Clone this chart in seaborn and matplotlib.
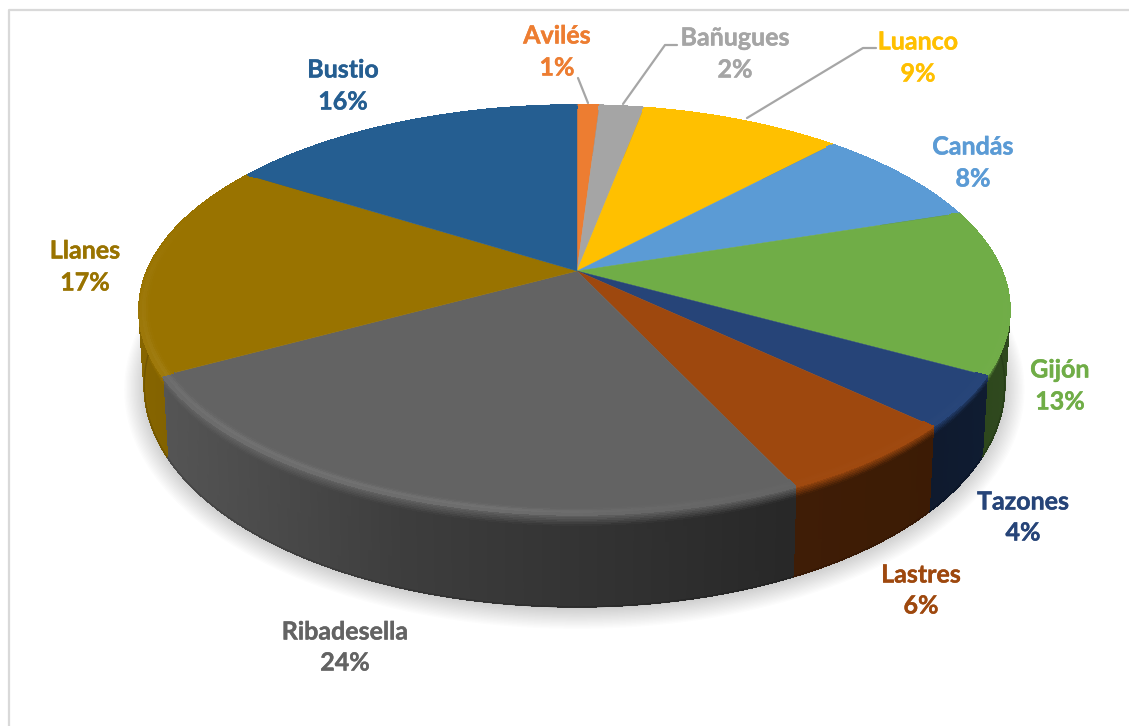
"""Tarta 3D de puertos (Asturias), dibujada con polígonos proyectados."""

import numpy as np
import matplotlib
matplotlib.use('Agg')
import matplotlib.pyplot as plt
import matplotlib.patheffects as pe
from matplotlib.collections import LineCollection, PolyCollection
import seaborn as sns

puertos = ['Avilés', 'Bañugues', 'Luanco', 'Candás', 'Gijón',
           'Tazones', 'Lastres', 'Ribadesella', 'Llanes', 'Bustio']
porcentajes = [1, 2, 9, 8, 13, 4, 6, 24, 17, 16]

colores = ['#ed7d31', '#a5a5a5', '#ffc000', '#5b9bd5', '#70ad47',
           '#264478', '#9e480e', '#636363', '#997300', '#255e91']

# label centres in pixels (name line, percent line)
label_x = [557, 735, 918, 973, 1060, 1023, 921, 345, 85, 343]
label_y1 = [36, 38, 42, 147, 370, 502, 575, 632, 251, 70]
label_y2 = [68, 70, 74, 179, 402, 533, 606, 663, 283, 102]

sns.set_theme(style='white')
plt.rcParams['font.family'] = ['Lato', 'DejaVu Sans']
palette = np.array(sns.color_palette(colores))

W, H = 1129, 726
CX, CY = 577, 271
K = 0.19
B = 146


def project(theta, r=1.0):
    """Disc point (clockwise from the top) to pixels, with perspective."""
    u = r * np.sin(theta)
    v = r * np.cos(theta)
    den = 1 + K * v
    a = np.where(u < 0, 430, 425)
    return CX + a * u / den, (CY - B * v) / den, den


def side_point(theta, s):
    """Point on the rim wall, s=0 at the top edge and s=1 at the bottom."""
    x, y, den = project(theta)
    depth = 92 - 110 * (den - 0.81)
    return CX + (x - CX) * (1 - 0.012 * s), y + depth * s


def side_shade(x):
    return np.interp(x, [140, 170, 400, 790, 930, 1000],
                     [0.88, 0.85, 0.62, 0.40, 0.38, 0.42])


fig, ax = plt.subplots(figsize=(W / 100, H / 100), dpi=100)
fig.subplots_adjust(0, 0, 1, 1)
ax.set_xlim(0, W)
ax.set_ylim(H, 0)
ax.axis('off')

# chart frame, only top and left show in the crop
ax.plot([9, 9, W], [H, 10, 10], color='#d9d9d9', lw=1.6, zorder=1)

# soft shadow under the pie
all_t = np.linspace(0, 2 * np.pi, 361)
bx, by = side_point(all_t, 1.0)
for grow in np.linspace(0, 20, 16):
    sx = CX + (bx - CX) * (1 + grow / 430)
    sy = 355 + (by - 355) * (1 + grow / 250) + 2
    ax.fill(sx, sy, color='black', alpha=0.011, lw=0, zorder=2)

angles = np.cumsum([0] + porcentajes) / sum(porcentajes) * 2 * np.pi

side_quads, side_cols = [], []
rim_quads, rim_cols = [], []
edge_segs, edge_cols = [], []
layers = np.concatenate([np.linspace(0, 0.13, 8), np.linspace(0.2, 1.0, 6)])
rim_r = np.linspace(0.975, 1.0, 7)

for i, base in enumerate(palette):
    n = max(int(np.degrees(angles[i + 1] - angles[i])) * 2, 4)
    t = np.linspace(angles[i], angles[i + 1], n + 1)

    # wall of the wedge
    for s0, s1 in zip(layers[:-1], layers[1:]):
        x0, y0 = side_point(t, s0)
        x1, y1 = side_point(t, s1)
        for j in range(n):
            side_quads.append([(x0[j], y0[j]), (x0[j + 1], y0[j + 1]),
                               (x1[j + 1], y1[j + 1]), (x1[j], y1[j])])
            sm = (s0 + s1) / 2
            dark = base * side_shade((x0[j] + x0[j + 1]) / 2)
            top = np.clip(base * 1.05, 0, 1)
            side_cols.append(top + (dark - top) * np.clip(sm / 0.13, 0, 1))

    # smooth outer edge of the wall, the quads are not antialiased
    x1, y1 = side_point(t, 1.0)
    for j in range(n):
        edge_segs.append([(x1[j], y1[j]), (x1[j + 1], y1[j + 1])])
        edge_cols.append(base * side_shade((x1[j] + x1[j + 1]) / 2) * 0.85)

    # flat top of the wedge
    xt, yt, _ = project(t, rim_r[0])
    ax.fill(np.r_[CX, xt], np.r_[CY, yt], color=base, lw=0.3, zorder=4)

    # rounded rim on the front half, the highlight fades towards the right
    for r0, r1 in zip(rim_r[:-1], rim_r[1:]):
        x0, y0, _ = project(t, r0)
        x1, y1, _ = project(t, r1)
        rm = (r0 + r1) / 2
        bump = np.exp(-((rm - 0.993) / 0.008) ** 2)
        front = np.clip(0.3 - np.cos((t[:-1] + t[1:]) / 2), 0, 1)
        fade = np.interp((x0[:-1] + x0[1:]) / 2, [140, 500, 650, 800], [1, 1, 0.4, 0.1])
        for j in range(n):
            rim_quads.append([(x0[j], y0[j]), (x0[j + 1], y0[j + 1]),
                              (x1[j + 1], y1[j + 1]), (x1[j], y1[j])])
            rim_cols.append(base + (1 - base) * 0.09 * bump * front[j] * fade[j])

    # smooth edge of the back half of the disc
    back = np.cos(t) > -0.2
    xe, ye, _ = project(t, 1.0)
    ax.plot(np.where(back, xe, np.nan), np.where(back, ye, np.nan),
            color=tuple(base), lw=0.8, zorder=5.5)

ax.add_collection(PolyCollection(side_quads, facecolors=side_cols, edgecolors='face',
                                 linewidths=0.6, antialiased=False, zorder=3))
ax.add_collection(LineCollection(edge_segs, colors=edge_cols, linewidths=1.0, zorder=3.5))
ax.add_collection(PolyCollection(rim_quads, facecolors=rim_cols, edgecolors='face',
                                 linewidths=0.6, antialiased=False, zorder=5))

# leader lines
linea = dict(color='#a6a6a6', lw=1.6, zorder=6, solid_capstyle='round')
ax.plot([578, 588], [78, 103], **linea)
ax.plot([677, 665, 623], [45, 45, 104], **linea)
ax.plot([876, 863, 747], [48, 48, 118], **linea)

for i, nombre in enumerate(puertos):
    stroke = [pe.withStroke(linewidth=0.3, foreground=tuple(palette[i]))]
    ax.text(label_x[i], label_y1[i], nombre, color=palette[i], fontsize=18,
            fontweight='bold', ha='center', va='center', zorder=7, path_effects=stroke)
    ax.text(label_x[i], label_y2[i], f'{porcentajes[i]}%', color=palette[i], fontsize=18,
            fontweight='bold', ha='center', va='center', zorder=7, path_effects=stroke)

fig.savefig('out.png', dpi=100, facecolor='white')
